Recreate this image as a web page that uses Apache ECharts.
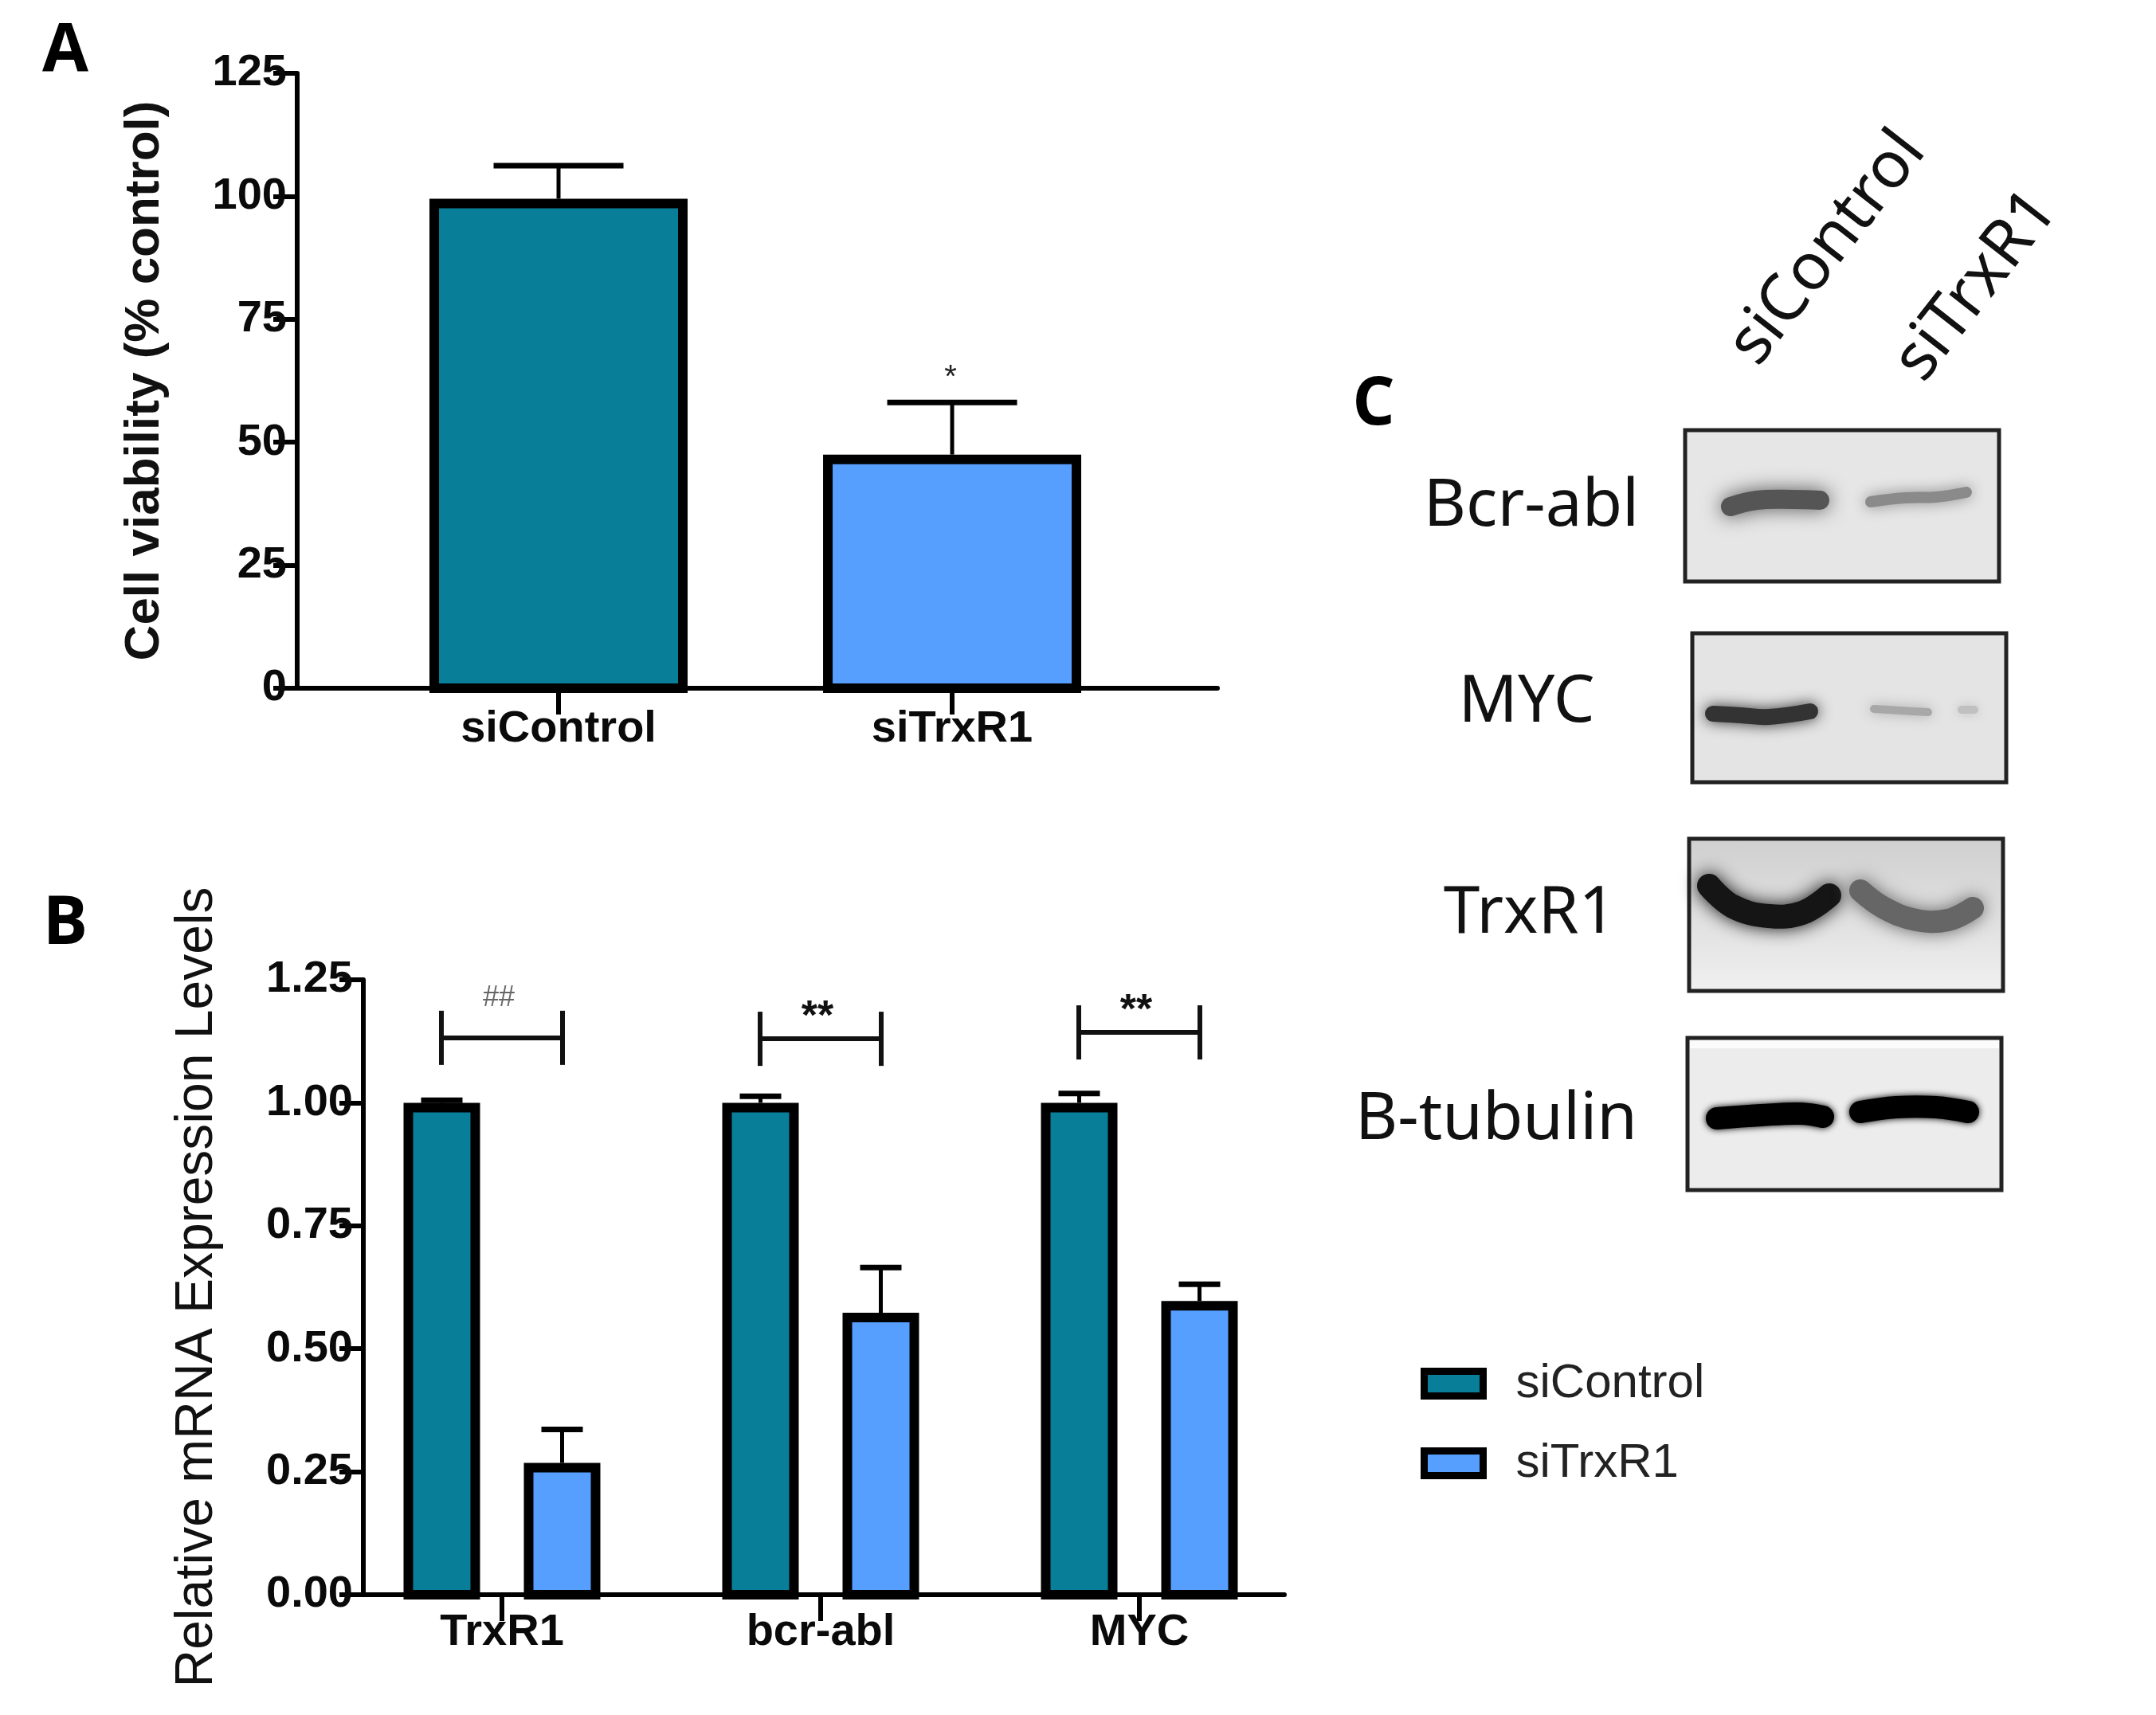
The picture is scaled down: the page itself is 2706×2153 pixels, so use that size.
<!DOCTYPE html>
<html>
<head>
<meta charset="utf-8">
<style>html,body{margin:0;padding:0;background:#fff}#chart{width:2706px;height:2153px}</style>
<script src="https://cdn.jsdelivr.net/npm/echarts@6/dist/echarts.min.js"></script>
</head>
<body>
<div id="chart"></div>
<script>
// panel A
var viabilityGroups = ['siControl', 'siTrxR1'];
var viabilityMeans = [99.5, 47.5];
var viabilityTops = [106.2, 58.1];
var viabilityMarks = ['', '*'];

// panel B
var genes = ['TrxR1', 'bcr-abl', 'MYC'];
var controlMeans = [1.0, 1.0, 1.0];
var controlTops = [1.005, 1.013, 1.019];
var knockdownMeans = [0.268, 0.573, 0.597];
var knockdownTops = [0.336, 0.665, 0.631];
var bracketHeights = [1.132, 1.13, 1.143];
var bracketMarks = ['##', '**', '**'];

// panel C
var blotNames = ['Bcr-abl', 'MYC', 'TrxR1', 'B-tubulin'];
var laneNames = ['siControl', 'siTrxR1'];

var TEAL = '#087e99', BLUE = '#569fff', INK = '#0a0a0a';
var ARIAL = '"Liberation Sans", Arial, sans-serif';
var NOTO = '"Noto Sans", sans-serif';

// bar with an error whisker, the outline stays inside the bar like in Prism
function barRenderer(opt) {
    return function (params, api) {
        var x = api.value(0);
        var top = api.coord([x, api.value(1)]);
        var whisker = api.coord([x, api.value(2)]);
        var base = api.coord([x, 0]);
        var cx = top[0] + opt.offset;
        var s = opt.stroke;
        var color = opt.colors ? opt.colors[params.dataIndex] : opt.color;
        return {
            type: 'group',
            children: [
                { type: 'line', shape: { x1: cx, y1: top[1], x2: cx, y2: whisker[1] }, style: { stroke: '#000', lineWidth: opt.stem } },
                { type: 'line', shape: { x1: cx - opt.cap / 2, y1: whisker[1], x2: cx + opt.cap / 2, y2: whisker[1] }, style: { stroke: '#000', lineWidth: opt.capLine } },
                {
                    type: 'rect',
                    shape: { x: cx - opt.width / 2 + s / 2, y: top[1] + s / 2, width: opt.width - s, height: base[1] - top[1] - s / 2 },
                    style: { fill: color, stroke: '#000', lineWidth: s }
                }
            ]
        };
    };
}

// significance bracket over a gene
function bracketRenderer(params, api) {
    var x = api.value(0);
    var mid = api.coord([x, api.value(1)]);
    var half = 76, leg = 34;
    var y = mid[1];
    var left = mid[0] - half, right = mid[0] + half;
    var hash = bracketMarks[params.dataIndex] === '##';
    return {
        type: 'group',
        children: [
            { type: 'line', shape: { x1: left, y1: y, x2: right, y2: y }, style: { stroke: '#111', lineWidth: 6 } },
            { type: 'line', shape: { x1: left, y1: y - leg, x2: left, y2: y + leg }, style: { stroke: '#111', lineWidth: 6 } },
            { type: 'line', shape: { x1: right, y1: y - leg, x2: right, y2: y + leg }, style: { stroke: '#111', lineWidth: 6 } },
            {
                type: 'text',
                x: mid[0] - 4,
                y: y + (hash ? -50 : -26),
                style: {
                    text: bracketMarks[params.dataIndex],
                    font: (hash ? '36px ' : 'bold 52px ') + ARIAL,
                    fill: hash ? '#666' : '#111',
                    textAlign: 'center',
                    textVerticalAlign: 'middle'
                }
            }
        ]
    };
}

function markRenderer(params, api) {
    var p = api.coord([api.value(0), api.value(1)]);
    return {
        type: 'text',
        x: p[0] - 2,
        y: p[1] - 30,
        style: { text: viabilityMarks[params.dataIndex], font: '40px ' + ARIAL, fill: '#222', textAlign: 'center', textVerticalAlign: 'middle' }
    };
}

function yAxis(idx, name, max, step, digits, gap, font, weight) {
    return {
        type: 'value', gridIndex: idx, min: 0, max: max, interval: step,
        name: name, nameLocation: 'middle', nameGap: gap, nameRotate: 90, nameMoveOverlap: false,
        nameTextStyle: { fontFamily: ARIAL, fontSize: font, fontWeight: weight, color: '#111' },
        axisLine: { show: true, onZero: false, lineStyle: { color: '#000', width: 6 } },
        axisTick: { show: true, length: 30, lineStyle: { color: '#000', width: 6 } },
        axisLabel: {
            margin: 13, fontFamily: ARIAL, fontSize: 56, fontWeight: 'bold', color: INK,
            formatter: function (v) { return v.toFixed(digits); }
        },
        splitLine: { show: false }
    };
}

function xAxis(idx, names, min, max, margin) {
    var ticks = names.map(function (n, i) { return i; });
    return {
        type: 'value', gridIndex: idx, min: min, max: max,
        axisLine: { show: true, onZero: false, lineStyle: { color: '#000', width: 6 } },
        axisTick: { show: true, length: 33, customValues: ticks, lineStyle: { color: '#000', width: 6 } },
        axisLabel: {
            show: true, customValues: ticks, margin: margin, fontFamily: ARIAL, fontSize: 56, fontWeight: 'bold', color: INK,
            formatter: function (v) { return names[v]; }
        },
        splitLine: { show: false }
    };
}

function zipRows(means, tops) {
    return means.map(function (m, i) { return [i, m, tops[i]]; });
}

// panel C drawings
var frames = [
    { x: 2115, y: 540, w: 394, h: 190, fill: '#e6e6e6' },
    { x: 2124, y: 795, w: 394, h: 187, fill: '#e4e4e4' },
    { x: 2120, y: 1053, w: 394, h: 191, fill: { type: 'linear', x: 0, y: 0, x2: 0, y2: 1, colorStops: [{ offset: 0, color: '#cfcfcf' }, { offset: 1, color: '#f0f0f0' }] } },
    { x: 2118, y: 1303, w: 394, h: 191, fill: '#ececec' }
];
var bands = [
    { pts: [[2172, 636], [2205, 628], [2250, 627], [2284, 628]], width: 24, color: '#555', blur: 24 },
    { pts: [[2348, 630], [2390, 625], [2430, 624], [2468, 618]], width: 14, color: '#8a8a8a', blur: 18 },
    { pts: [[2150, 896], [2185, 898], [2220, 900], [2272, 893]], width: 20, color: '#333', blur: 18 },
    { pts: [[2352, 890], [2385, 892], [2420, 894]], width: 10, color: '#a8a8a8', blur: 16 },
    { pts: [[2462, 891], [2478, 891]], width: 10, color: '#c0c0c0', blur: 14 },
    { pts: [[2145, 1112], [2175, 1138], [2220, 1150], [2262, 1146], [2296, 1124]], width: 30, color: '#151515', blur: 22 },
    { pts: [[2335, 1118], [2365, 1140], [2405, 1155], [2445, 1155], [2476, 1140]], width: 28, color: '#666', blur: 22 },
    { pts: [[2155, 1404], [2210, 1400], [2260, 1398], [2288, 1402]], width: 28, color: '#000', blur: 8 },
    { pts: [[2335, 1396], [2380, 1390], [2430, 1390], [2470, 1396]], width: 28, color: '#000', blur: 8 }
];
var nameSpots = [[1922, 637], [1916, 883], [1920, 1148], [1878, 1407]];
var laneSpots = [[2294, 312], [2481, 359]];

function blotGraphics() {
    var els = [];
    frames.forEach(function (f) {
        els.push({ type: 'rect', z: 1, shape: { x: f.x, y: f.y, width: f.w, height: f.h }, style: { fill: f.fill, stroke: '#222', lineWidth: 5 } });
    });
    // white strip along the top of the tubulin film
    els.push({ type: 'rect', z: 2, shape: { x: 2121, y: 1306, width: 388, height: 10 }, style: { fill: '#fbfbfb' } });
    bands.forEach(function (b) {
        els.push({
            type: 'polyline', z: 3,
            shape: { points: b.pts, smooth: 0.4 },
            style: { fill: null, stroke: b.color, lineWidth: b.width, lineCap: 'round', shadowBlur: b.blur, shadowColor: b.color }
        });
    });
    blotNames.forEach(function (n, i) {
        els.push({
            type: 'text', z: 4, x: nameSpots[i][0], y: nameSpots[i][1],
            style: { text: n, font: '82px ' + NOTO, fill: '#111', textAlign: 'center', textVerticalAlign: 'middle' }
        });
    });
    laneNames.forEach(function (n, i) {
        els.push({
            type: 'text', z: 4, x: laneSpots[i][0], y: laneSpots[i][1], rotation: 52 * Math.PI / 180,
            style: { text: n, font: '82px ' + NOTO, fill: '#111', textAlign: 'center', textVerticalAlign: 'middle' }
        });
    });
    [['A', 82, 65], ['B', 82, 1161], ['C', 1724, 509]].forEach(function (l) {
        els.push({
            type: 'text', z: 4, x: l[1], y: l[2],
            style: { text: l[0], font: 'bold 84px "Open Sans", sans-serif', fill: '#000', textAlign: 'center', textVerticalAlign: 'middle' }
        });
    });
    return els;
}

var myChart = echarts.init(document.getElementById('chart'));
var option = {
    backgroundColor: '#fff',
    animation: false,
    legend: {
        data: ['siControl', 'siTrxR1'],
        left: 1778, top: 1702, orient: 'vertical',
        icon: 'rect', itemWidth: 74, itemHeight: 31, itemGap: 40, selectedMode: false,
        itemStyle: { borderColor: '#000', borderWidth: 9 },
        textStyle: { fontFamily: ARIAL, fontSize: 60, color: '#222', padding: [0, 0, 0, 36] }
    },
    grid: [
        { left: 373, top: 92, width: 1155, height: 772 },
        { left: 456, top: 1230, width: 1156, height: 772 }
    ],
    xAxis: [
        xAxis(0, viabilityGroups, -0.664, 1.674, 24),
        xAxis(1, genes, -0.435, 2.455, 20)
    ],
    yAxis: [
        yAxis(0, 'Cell viability (% control)', 125, 25, 0, 160, 62, 'bold'),
        yAxis(1, 'Relative mRNA Expression Levels', 1.25, 0.25, 2, 175, 66, 'normal')
    ],
    series: [
        {
            type: 'custom', name: 'viability', xAxisIndex: 0, yAxisIndex: 0,
            data: zipRows(viabilityMeans, viabilityTops),
            encode: { x: 0, y: 1 },
            renderItem: barRenderer({ offset: 0, width: 324, stroke: 12, stem: 5, cap: 163, capLine: 7, colors: [TEAL, BLUE] })
        },
        {
            type: 'custom', name: 'viabilityMarks', xAxisIndex: 0, yAxisIndex: 0,
            data: viabilityTops.map(function (t, i) { return [i, t]; }),
            encode: { x: 0, y: 1 },
            renderItem: markRenderer
        },
        {
            type: 'custom', name: 'siControl', xAxisIndex: 1, yAxisIndex: 1,
            itemStyle: { color: TEAL },
            data: zipRows(controlMeans, controlTops),
            encode: { x: 0, y: 1 },
            renderItem: barRenderer({ offset: -75.5, width: 96, stroke: 12, stem: 5, cap: 52, capLine: 7, color: TEAL })
        },
        {
            type: 'custom', name: 'siTrxR1', xAxisIndex: 1, yAxisIndex: 1,
            itemStyle: { color: BLUE },
            data: zipRows(knockdownMeans, knockdownTops),
            encode: { x: 0, y: 1 },
            renderItem: barRenderer({ offset: 75.5, width: 96, stroke: 12, stem: 5, cap: 52, capLine: 7, color: BLUE })
        },
        {
            type: 'custom', name: 'brackets', xAxisIndex: 1, yAxisIndex: 1,
            data: bracketHeights.map(function (h, i) { return [i, h]; }),
            encode: { x: 0, y: 1 },
            renderItem: bracketRenderer
        }
    ],
    graphic: { elements: blotGraphics() }
};
myChart.setOption(option);
</script>
</body>
</html>
